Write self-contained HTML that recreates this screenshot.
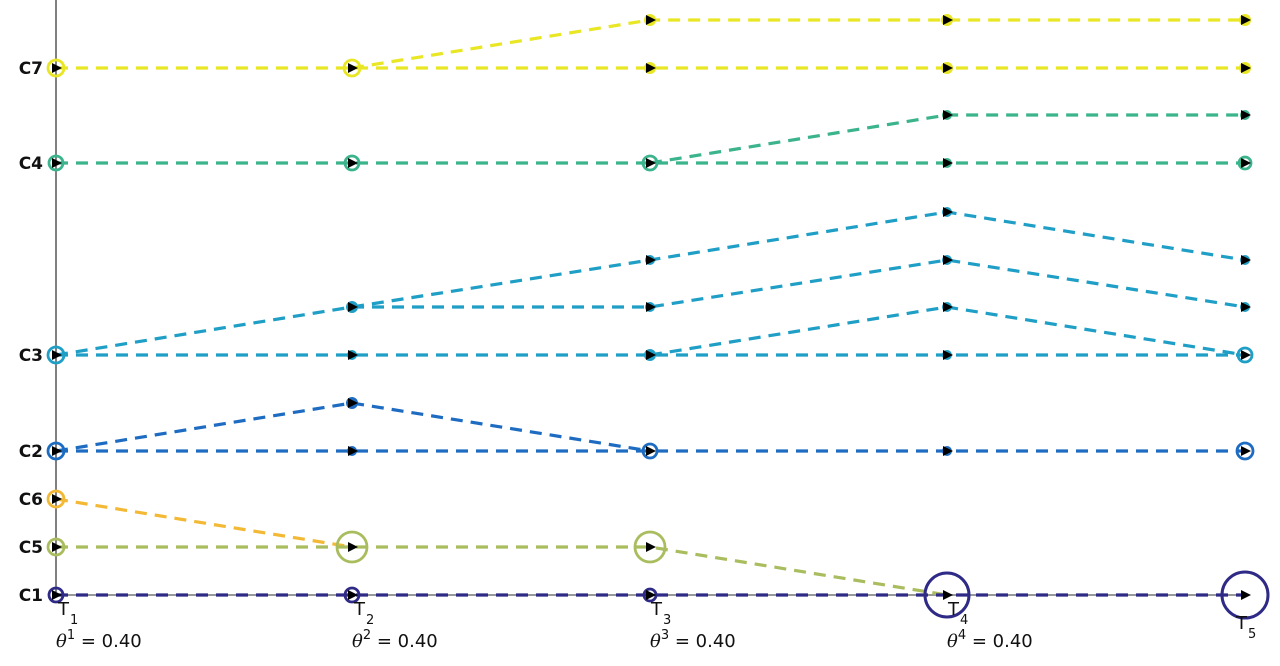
<!DOCTYPE html>
<html><head><style>body{margin:0;background:#fff}svg{display:block}</style></head><body>
<svg width="1280" height="666" viewBox="0 0 1280 666" font-family="DejaVu Sans, Liberation Sans, sans-serif">
<line x1="56" y1="0" x2="56" y2="596" stroke="#000" stroke-width="1"/>
<line x1="56" y1="595" x2="1245" y2="595" stroke="#999" stroke-width="2"/>
<g fill="none" stroke-width="3.2" stroke-dasharray="12,8">
<g stroke="#e9e624">
<polyline points="56,68 352,68 650,68 947,68 1245,68"/>
<polyline points="352,68 650,20 947,20 1245,20"/>
</g>
<g stroke="#3bb38c">
<polyline points="56,163 352,163 650,163 947,163 1245,163"/>
<polyline points="650,163 947,115 1245,115"/>
</g>
<g stroke="#1f9ec6">
<polyline points="56,355 352,355 650,355 947,355 1245,355"/>
<polyline points="56,355 352,307 650,260 947,212 1245,260"/>
<polyline points="352,307 650,307 947,260 1245,307"/>
<polyline points="650,355 947,307 1245,355"/>
</g>
<g stroke="#1d6cc2">
<polyline points="56,451 352,451 650,451 947,451 1245,451"/>
<polyline points="56,451 352,403 650,451"/>
</g>
<polyline stroke="#f3b934" points="56,499 352,547"/>
<polyline stroke="#a9bd5e" points="56,547 352,547 650,547 947,595"/>
<polyline stroke="#2e2a86" points="56,595 352,595 650,595 947,595 1245,595"/>
</g>
<g fill="none" stroke-width="2.8">
<circle cx="56" cy="68" r="8" stroke="#e9e624"/><circle cx="352" cy="68" r="8" stroke="#e9e624"/>
<circle cx="56" cy="163" r="7" stroke="#3bb38c"/><circle cx="352" cy="163" r="7" stroke="#3bb38c"/><circle cx="650" cy="163" r="7" stroke="#3bb38c"/><circle cx="1245" cy="163" r="6" stroke="#3bb38c"/>
<circle cx="56" cy="355" r="8" stroke="#1f9ec6"/><circle cx="1245" cy="355" r="7" stroke="#1f9ec6"/>
<circle cx="56" cy="451" r="8" stroke="#1d6cc2"/><circle cx="650" cy="451" r="7" stroke="#1d6cc2"/><circle cx="1245" cy="451" r="8" stroke="#1d6cc2"/>
<circle cx="56" cy="499" r="8" stroke="#f3b934"/>
<circle cx="56" cy="547" r="8" stroke="#a9bd5e"/><circle cx="352" cy="547" r="15" stroke="#a9bd5e"/><circle cx="650" cy="547" r="15" stroke="#a9bd5e"/>
<circle cx="56" cy="595" r="7" stroke="#2e2a86"/><circle cx="352" cy="595" r="7" stroke="#2e2a86"/><circle cx="650" cy="595" r="6" stroke="#2e2a86"/>
<circle cx="947" cy="595" r="22" stroke="#2e2a86" stroke-width="3"/><circle cx="1245" cy="595" r="23" stroke="#2e2a86" stroke-width="3"/>
</g>
<g>
<circle cx="650" cy="20" r="6" fill="#e9e624"/><circle cx="947" cy="20" r="6" fill="#e9e624"/><circle cx="1245" cy="20" r="6" fill="#e9e624"/>
<circle cx="650" cy="68" r="6" fill="#e9e624"/><circle cx="947" cy="68" r="6" fill="#e9e624"/><circle cx="1245" cy="68" r="6" fill="#e9e624"/>
<circle cx="947" cy="115" r="5" fill="#3bb38c"/><circle cx="1245" cy="115" r="5" fill="#3bb38c"/><circle cx="947" cy="163" r="5" fill="#3bb38c"/>
<circle cx="650" cy="260" r="5" fill="#1f9ec6"/><circle cx="947" cy="212" r="5" fill="#1f9ec6"/><circle cx="1245" cy="260" r="5" fill="#1f9ec6"/>
<circle cx="352" cy="307" r="6" fill="#1f9ec6"/><circle cx="650" cy="307" r="5" fill="#1f9ec6"/><circle cx="947" cy="260" r="5" fill="#1f9ec6"/><circle cx="1245" cy="307" r="5" fill="#1f9ec6"/>
<circle cx="352" cy="355" r="5" fill="#1f9ec6"/><circle cx="650" cy="355" r="6" fill="#1f9ec6"/><circle cx="947" cy="307" r="5" fill="#1f9ec6"/><circle cx="947" cy="355" r="5" fill="#1f9ec6"/>
<circle cx="352" cy="403" r="6" fill="#1d6cc2"/><circle cx="352" cy="451" r="5" fill="#1d6cc2"/><circle cx="947" cy="451" r="5" fill="#1d6cc2"/>
</g>
<g fill="#000">
<path d="M52,63l10,5l-10,5z"/><path d="M348,63l10,5l-10,5z"/><path d="M646,63l10,5l-10,5z"/><path d="M943,63l10,5l-10,5z"/><path d="M1241,63l10,5l-10,5z"/>
<path d="M646,15l10,5l-10,5z"/><path d="M943,15l10,5l-10,5z"/><path d="M1241,15l10,5l-10,5z"/>
<path d="M943,110l10,5l-10,5z"/><path d="M1241,110l10,5l-10,5z"/>
<path d="M52,158l10,5l-10,5z"/><path d="M348,158l10,5l-10,5z"/><path d="M646,158l10,5l-10,5z"/><path d="M943,158l10,5l-10,5z"/><path d="M1241,158l10,5l-10,5z"/>
<path d="M943,207l10,5l-10,5z"/><path d="M646,255l10,5l-10,5z"/><path d="M943,255l10,5l-10,5z"/><path d="M1241,255l10,5l-10,5z"/>
<path d="M348,302l10,5l-10,5z"/><path d="M646,302l10,5l-10,5z"/><path d="M943,302l10,5l-10,5z"/><path d="M1241,302l10,5l-10,5z"/>
<path d="M52,350l10,5l-10,5z"/><path d="M348,350l10,5l-10,5z"/><path d="M646,350l10,5l-10,5z"/><path d="M943,350l10,5l-10,5z"/><path d="M1241,350l10,5l-10,5z"/>
<path d="M348,398l10,5l-10,5z"/>
<path d="M52,446l10,5l-10,5z"/><path d="M348,446l10,5l-10,5z"/><path d="M646,446l10,5l-10,5z"/><path d="M943,446l10,5l-10,5z"/><path d="M1241,446l10,5l-10,5z"/>
<path d="M52,494l10,5l-10,5z"/>
<path d="M52,542l10,5l-10,5z"/><path d="M348,542l10,5l-10,5z"/><path d="M646,542l10,5l-10,5z"/>
<path d="M52,590l10,5l-10,5z"/><path d="M348,590l10,5l-10,5z"/><path d="M646,590l10,5l-10,5z"/><path d="M943,590l10,5l-10,5z"/><path d="M1241,590l10,5l-10,5z"/>
</g>
<g font-size="17" font-weight="bold" text-anchor="end" fill="#111">
<text x="43" y="74">C7</text><text x="43" y="169">C4</text><text x="43" y="361">C3</text><text x="43" y="457">C2</text>
<text x="43" y="505">C6</text><text x="43" y="553">C5</text><text x="43" y="601">C1</text>
</g>
<g font-size="18" fill="#111">
<text x="58" y="615">T</text><text x="70" y="624" font-size="13">1</text>
<text x="354" y="615">T</text><text x="366" y="624" font-size="13">2</text>
<text x="651" y="615">T</text><text x="663" y="624" font-size="13">3</text>
<text x="948" y="615">T</text><text x="960" y="624" font-size="13">4</text>
<text x="1236" y="629">T</text><text x="1248" y="638" font-size="13">5</text>
<text x="56" y="647"><tspan font-family="DejaVu Serif, serif" font-style="italic">θ</tspan><tspan dy="-8" font-size="13">1</tspan><tspan dy="8"> = 0.40</tspan></text>
<text x="352" y="647"><tspan font-family="DejaVu Serif, serif" font-style="italic">θ</tspan><tspan dy="-8" font-size="13">2</tspan><tspan dy="8"> = 0.40</tspan></text>
<text x="650" y="647"><tspan font-family="DejaVu Serif, serif" font-style="italic">θ</tspan><tspan dy="-8" font-size="13">3</tspan><tspan dy="8"> = 0.40</tspan></text>
<text x="947" y="647"><tspan font-family="DejaVu Serif, serif" font-style="italic">θ</tspan><tspan dy="-8" font-size="13">4</tspan><tspan dy="8"> = 0.40</tspan></text>
</g>
</svg>
</body></html>
